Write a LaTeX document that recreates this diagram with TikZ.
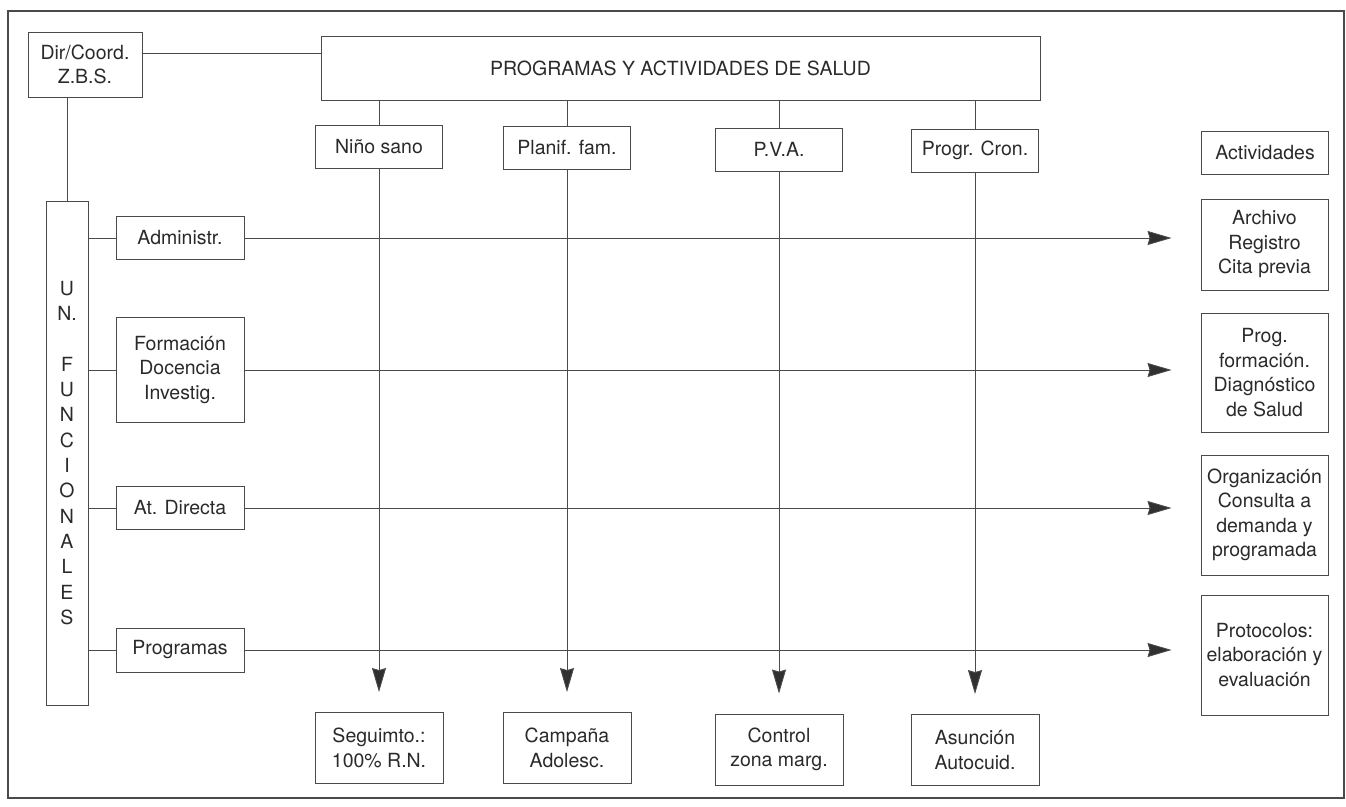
\documentclass[tikz,border=0pt]{standalone}
\usepackage{fontspec}
\setmainfont{TeX Gyre Heros}
\usetikzlibrary{arrows.meta}
\definecolor{linec}{HTML}{4A4A4A}
\definecolor{textc}{HTML}{2A2A2A}
\definecolor{headc}{HTML}{303030}
\newcommand{\dfont}{\fontsize{19.5}{24.5}\selectfont}
\begin{document}
\begin{tikzpicture}[x=1pt,y=-1pt,
  box/.style={draw=linec, line width=0.9pt, inner sep=0pt, align=center, font=\dfont, text=textc},
  tb/.style={box, minimum width=127pt, minimum height=43pt},
  bb/.style={box, minimum width=128pt, minimum height=71pt},
  lb/.style={box, minimum width=128pt},
  rb/.style={box, minimum width=127pt},
  conn/.style={draw=linec, line width=0.9pt},
  arr/.style={conn, -{Stealth[length=24pt,width=14pt,inset=2pt,fill=headc]}}]
\useasboundingbox (0,0) rectangle (1346,806);
\draw[line width=1.3pt, draw=linec] (8,11) rectangle (1344,798);

% top
\node[box, minimum width=114pt, minimum height=65pt] (dir) at (85,64.5) {Dir/Coord.\\Z.B.S.};
\node[box, minimum width=719pt, minimum height=64pt] (prog) at (680.5,68) {PROGRAMAS Y ACTIVIDADES DE SALUD};
\node[tb] (nino) at (379,147) {Niño sano};
\node[tb] (plan) at (567,148) {Planif. fam.};
\node[tb] (pva) at (779,149.5) {P.V.A.};
\node[tb] (cron) at (975,150.5) {Progr. Cron.};
\node[tb] (act) at (1265,153) {Actividades};

% bottom
\node[bb] (seg) at (379,748) {Seguimto.:\\100\% R.N.};
\node[bb] (camp) at (567,748) {Campaña\\Adolesc.};
\node[bb] (ctrl) at (779,749.5) {Control\\zona marg.};
\node[bb] (asun) at (975,750) {Asunción\\Autocuid.};

% left
\node[box, minimum width=42pt, minimum height=504pt, font=\fontsize{19.5}{25.3}\selectfont] (un) at (67,453)
  {U\\N.\\\mbox{}\\F\\U\\N\\C\\I\\O\\N\\A\\L\\E\\S};
\node[lb, minimum height=43pt] (adm) at (180,238) {Administr.};
\node[lb, minimum height=105pt] (form) at (180,370) {Formación\\Docencia\\Investig.};
\node[lb, minimum height=43pt] (atd) at (180,508) {At. Directa};
\node[lb, minimum height=44pt] (progr) at (180,650) {Programas};

% right
\node[rb, minimum height=91pt] (arch) at (1264.5,244.5) {Archivo\\Registro\\Cita previa};
\node[rb, minimum height=119pt] (pform) at (1264.5,372.5) {Prog.\\formación.\\Diagnóstico\\de Salud};
\node[rb, minimum height=120pt] (org) at (1264.5,515) {Organización\\Consulta a\\demanda y\\programada};
\node[rb, minimum height=120pt] (prot) at (1264.5,655) {Protocolos:\\elaboración y\\evaluación};

% connectors top
\draw[conn] ([yshift=11.5pt]dir.east) -- ([yshift=11.5pt]dir.east -| prog.west);
\draw[conn] (un.north |- dir.south) -- (un.north);
\foreach \n in {nino,plan,pva,cron}{
  \draw[conn] (\n.north |- prog.south) -- (\n.north);
}
% left connectors
\foreach \n in {adm,form,atd,progr}{
  \draw[conn] (\n.west -| un.east) -- (\n.west);
}
% horizontal arrows
\draw[arr, shorten >=29pt] (adm.east) -- (adm.east -| arch.west);
\draw[arr, shorten >=29pt] (form.east) -- (form.east -| pform.west);
\draw[arr, shorten >=29pt] (atd.east) -- (atd.east -| org.west);
\draw[arr, shorten >=29pt] (progr.east) -- (progr.east -| prot.west);
% vertical arrows
\draw[arr, shorten >=20pt] (nino.south) -- (nino.south |- seg.north);
\draw[arr, shorten >=20pt] (plan.south) -- (plan.south |- camp.north);
\draw[arr, shorten >=20pt] (pva.south) -- (pva.south |- ctrl.north);
\draw[arr, shorten >=20pt] (cron.south) -- (cron.south |- asun.north);
\end{tikzpicture}
\end{document}
